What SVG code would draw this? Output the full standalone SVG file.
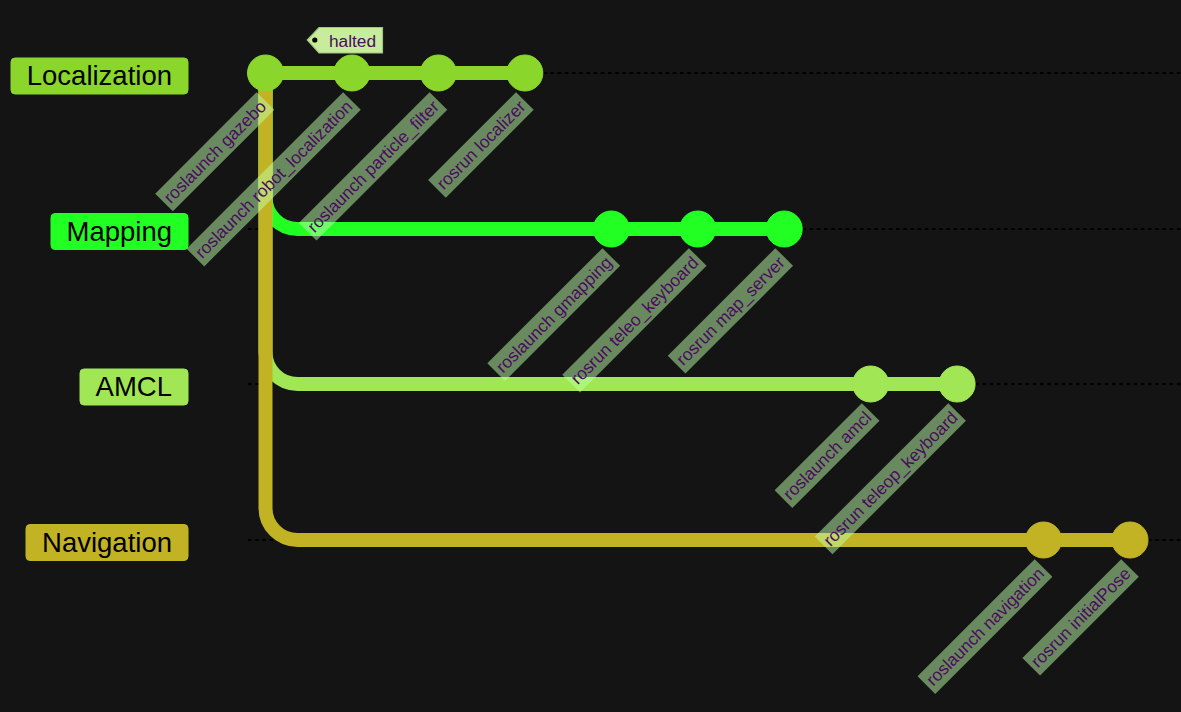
<svg xmlns="http://www.w3.org/2000/svg" width="1181" height="712" viewBox="0 0 1181 712">
<style>
.bl{stroke:#000;stroke-width:1.8;stroke-dasharray:3.6 3.6}
.br{fill:none;stroke-width:14;stroke-linecap:butt}
.blab{font-family:"Liberation Sans",Arial,sans-serif;font-size:27.5px;fill:#000;text-anchor:end}
.clb{fill:#beffaa;fill-opacity:0.5}
.clt{font-family:"Liberation Sans",Arial,sans-serif;font-size:17.3px;fill:#4c0b5f;text-anchor:middle}
.c0{fill:#8ad62b;stroke:#8ad62b}
.c1{fill:#22ff22;stroke:#22ff22}
.c2{fill:#a1e654;stroke:#a1e654}
.c3{fill:#c2b325;stroke:#c2b325}
</style>
<rect width="1181" height="712" fill="#141414"/>
<g id="branch-lines">
<line class="bl" x1="248" y1="73" x2="1181" y2="73"/>
<line class="bl" x1="248" y1="229" x2="1181" y2="229"/>
<line class="bl" x1="248" y1="384" x2="1181" y2="384"/>
<line class="bl" x1="248" y1="540" x2="1181" y2="540"/>
</g>
<g id="branch-labels">
<g id="label-localization"><rect x="11" y="58" width="177" height="36" rx="4" class="c0" stroke="none"/><text class="blab" x="172" y="84.8">Localization</text></g>
<g id="label-mapping"><rect x="51" y="213.5" width="137" height="36" rx="4" class="c1" stroke="none"/><text class="blab" x="172" y="240.5">Mapping</text></g>
<g id="label-amcl"><rect x="80" y="369" width="108" height="36" rx="4" class="c2" stroke="none"/><text class="blab" x="172" y="395.8">AMCL</text></g>
<g id="label-navigation"><rect x="26" y="524.5" width="162" height="36" rx="4" class="c3" stroke="none"/><text class="blab" x="172" y="551.5">Navigation</text></g>
</g>
<g id="connectors">
<path class="br c0" d="M265.5,73 L524.85,73" style="fill:none"/>
<path class="br c1" d="M265.5,73 L265.5,197 A32,32 0 0 0 297.5,229 L784.2,229" style="fill:none"/>
<path class="br c2" d="M265.5,73 L265.5,352 A32,32 0 0 0 297.5,384 L957.1,384" style="fill:none"/>
<path class="br c3" d="M265.5,73 L265.5,508 A32,32 0 0 0 297.5,540 L1130,540" style="fill:none"/>
</g>
<g id="commits">
<g id="commit-0"><circle cx="265.5" cy="73" r="18" class="c0" stroke="none"/></g>
<g id="commit-1"><circle cx="351.95" cy="73" r="18" class="c0" stroke="none"/></g>
<g id="commit-2"><circle cx="438.4" cy="73" r="18" class="c0" stroke="none"/></g>
<g id="commit-3"><circle cx="524.85" cy="73" r="18" class="c0" stroke="none"/></g>
<g id="commit-4"><circle cx="611.3" cy="229" r="18" class="c1" stroke="none"/></g>
<g id="commit-5"><circle cx="697.75" cy="229" r="18" class="c1" stroke="none"/></g>
<g id="commit-6"><circle cx="784.2" cy="229" r="18" class="c1" stroke="none"/></g>
<g id="commit-7"><circle cx="870.65" cy="384" r="18" class="c2" stroke="none"/></g>
<g id="commit-8"><circle cx="957.1" cy="384" r="18" class="c2" stroke="none"/></g>
<g id="commit-9"><circle cx="1043.55" cy="540" r="18" class="c3" stroke="none"/></g>
<g id="commit-10"><circle cx="1130" cy="540" r="18" class="c3" stroke="none"/></g>
</g>
<g id="commit-labels">
<g transform="translate(265.5,101) rotate(-45)"><rect class="clb" x="-143.5" y="-12.5" width="143.5" height="25"/><text class="clt" x="-71.75" y="6">roslaunch gazebo</text></g>
<g transform="translate(351.95,101) rotate(-45)"><rect class="clb" x="-221.4" y="-12.5" width="221.4" height="25"/><text class="clt" x="-110.7" y="6">roslaunch robot_localization</text></g>
<g transform="translate(438.4,101) rotate(-45)"><rect class="clb" x="-184.9" y="-12.5" width="184.9" height="25"/><text class="clt" x="-92.45" y="6">roslaunch particle_filter</text></g>
<g transform="translate(524.85,101) rotate(-45)"><rect class="clb" x="-124.3" y="-12.5" width="124.3" height="25"/><text class="clt" x="-62.15" y="6">rosrun localizer</text></g>
<g transform="translate(611.3,257) rotate(-45)"><rect class="clb" x="-162.8" y="-12.5" width="162.8" height="25"/><text class="clt" x="-81.4" y="6">roslaunch gmapping</text></g>
<g transform="translate(697.75,257) rotate(-45)"><rect class="clb" x="-179.1" y="-12.5" width="179.1" height="25"/><text class="clt" x="-89.55" y="6">rosrun teleo_keyboard</text></g>
<g transform="translate(784.2,257) rotate(-45)"><rect class="clb" x="-152.2" y="-12.5" width="152.2" height="25"/><text class="clt" x="-76.1" y="6">rosrun map_server</text></g>
<g transform="translate(870.65,412) rotate(-45)"><rect class="clb" x="-123.3" y="-12.5" width="123.3" height="25"/><text class="clt" x="-61.65" y="6">roslaunch amcl</text></g>
<g transform="translate(957.1,412) rotate(-45)"><rect class="clb" x="-188.7" y="-12.5" width="188.7" height="25"/><text class="clt" x="-94.35" y="6">rosrun teleop_keyboard</text></g>
<g transform="translate(1043.55,568) rotate(-45)"><rect class="clb" x="-165.7" y="-12.5" width="165.7" height="25"/><text class="clt" x="-82.85" y="6">roslaunch navigation</text></g>
<g transform="translate(1130,568) rotate(-45)"><rect class="clb" x="-139.7" y="-12.5" width="139.7" height="25"/><text class="clt" x="-69.85" y="6">rosrun initialPose</text></g>
</g>
<g id="tag-halted">
<polygon points="307.3,40 319,27.5 382.5,27.5 382.5,53 319,53" fill="#c6ec9c" stroke="#a3c383" stroke-width="1.2"/>
<circle cx="314.8" cy="40" r="2.6" fill="#000"/>
<text x="329" y="46.5" font-family="Liberation Sans, Arial, sans-serif" font-size="17.3px" fill="#4c0b5f">halted</text>
</g>
</svg>
